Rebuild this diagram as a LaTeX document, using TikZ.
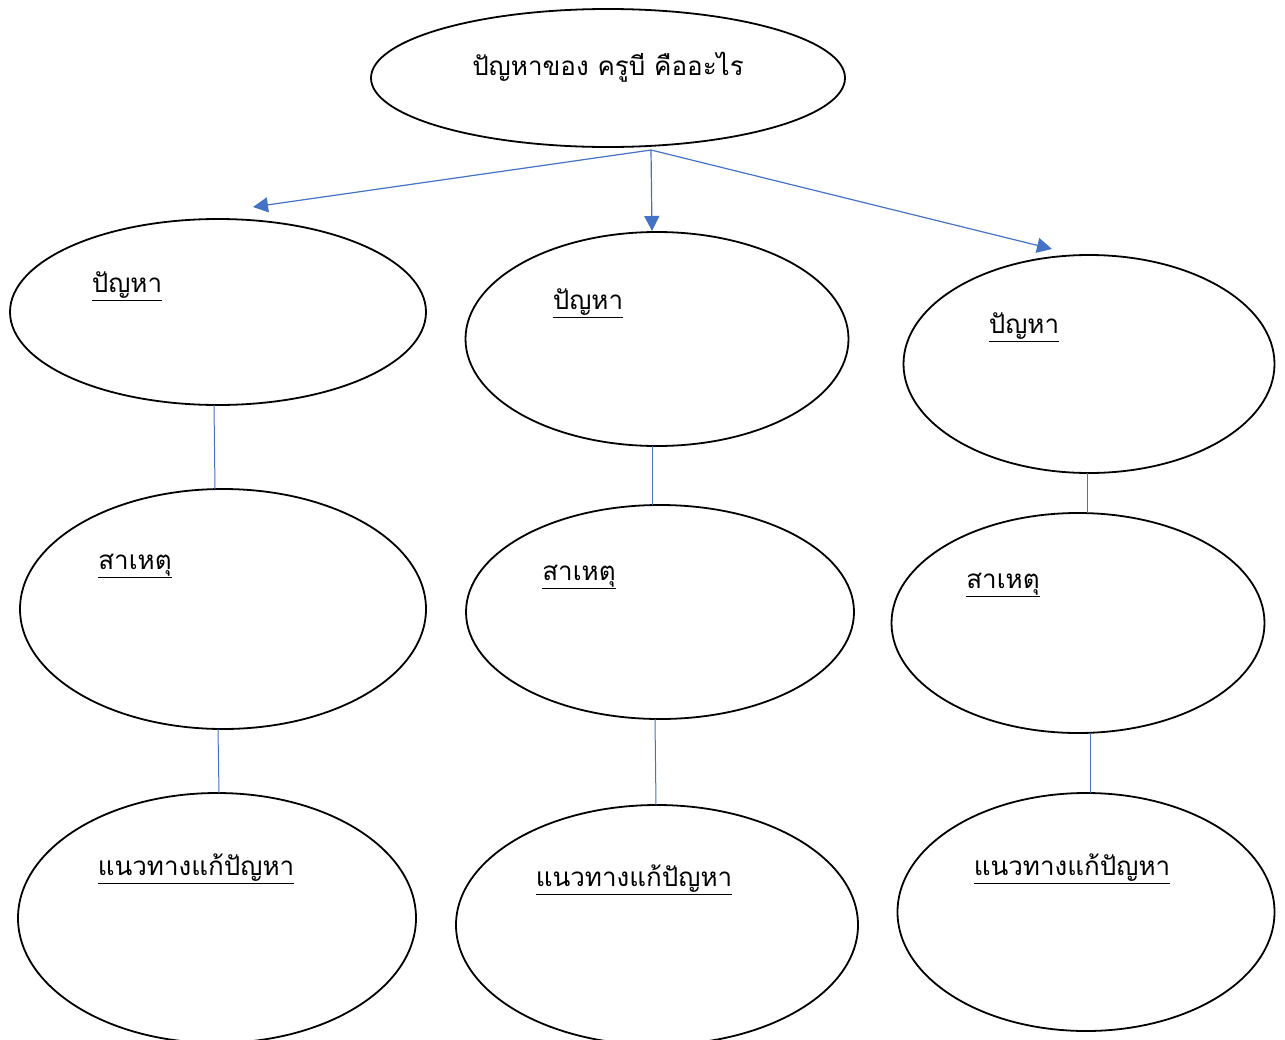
\documentclass[tikz,border=0pt]{standalone}
\usepackage{fontspec}
\newfontfamily\thaifont[Script=Thai]{Loma}
\usetikzlibrary{shapes.geometric,arrows.meta}
\tikzset{
  bub/.style={draw=black, line width=1.8pt, ellipse, inner sep=0pt},
  lbl/.style={font=\thaifont\fontsize{26}{30}\selectfont, inner sep=0pt, anchor=center},
  arr/.style={draw={rgb,255:red,68;green,114;blue,196}, line width=1.2pt, -{Triangle[length=15pt,width=15pt]}},
  lnk/.style={draw={rgb,255:red,68;green,114;blue,196}, line width=1pt},
}
\begin{document}
\begin{tikzpicture}[x=1pt,y=-1pt]
\useasboundingbox (0,0) rectangle (1285,1039);
\clip (0,0) rectangle (1285,1039);
% ellipses
\node[bub, minimum width=474pt, minimum height=138pt] (top) at (608,78) {};
\node[bub, minimum width=416pt, minimum height=186pt] (p1) at (218,312) {};
\node[bub, minimum width=383pt, minimum height=214pt] (p2) at (657,339) {};
\node[bub, minimum width=371pt, minimum height=218pt] (p3) at (1089,364) {};
\node[bub, minimum width=406pt, minimum height=240pt] (c1) at (223,609) {};
\node[bub, minimum width=388pt, minimum height=214pt] (c2) at (660,612) {};
\node[bub, minimum width=373pt, minimum height=220pt] (c3) at (1078,623) {};
\node[bub, minimum width=398pt, minimum height=250pt] (s1) at (217,918) {};
\node[bub, minimum width=402pt, minimum height=240pt] (s2) at (657,925) {};
\node[bub, minimum width=377pt, minimum height=238pt] (s3) at (1086,912) {};
% texts
\node[lbl] (ttop) at (608,67) {ปัญหาของ ครูบี คืออะไร};
\node[lbl] (tp1) at (127,286) {\underline{ปัญหา}};
\node[lbl] (tp2) at (588,303) {\underline{ปัญหา}};
\node[lbl] (tp3) at (1024,327) {\underline{ปัญหา}};
\node[lbl] (tc1) at (135,566) {\underline{สาเหตุ}};
\node[lbl] (tc2) at (579,577) {\underline{สาเหตุ}};
\node[lbl] (tc3) at (1003,585) {\underline{สาเหตุ}};
\node[lbl] (ts1) at (196,869) {\underline{แนวทางแก้ปัญหา}};
\node[lbl] (ts2) at (634,880) {\underline{แนวทางแก้ปัญหา}};
\node[lbl] (ts3) at (1072,869) {\underline{แนวทางแก้ปัญหา}};
% connectors
\coordinate (hub) at (651,150);
\coordinate (e1) at (253,207);
\coordinate (e2) at (652,231);
\coordinate (e3) at (1052,249);
\draw[arr] (hub) -- (e1);
\draw[arr] (hub) -- (e2);
\draw[arr] (hub) -- (e3);
\coordinate (a1) at (214,405); \coordinate (b1) at (215,489);
\coordinate (a2) at (652,446); \coordinate (b2) at (652,505);
\coordinate (a3) at (1087,473); \coordinate (b3) at (1087,513);
\coordinate (d1) at (218,729); \coordinate (f1) at (219,793);
\coordinate (d2) at (655,719); \coordinate (f2) at (656,805);
\coordinate (d3) at (1090,733); \coordinate (f3) at (1090,793);
\draw[lnk] (a1) -- (b1);
\draw[lnk] (a2) -- (b2);
\draw[lnk] (a3) -- (b3);
\draw[lnk] (d1) -- (f1);
\draw[lnk] (d2) -- (f2);
\draw[lnk] (d3) -- (f3);
\end{tikzpicture}
\end{document}
